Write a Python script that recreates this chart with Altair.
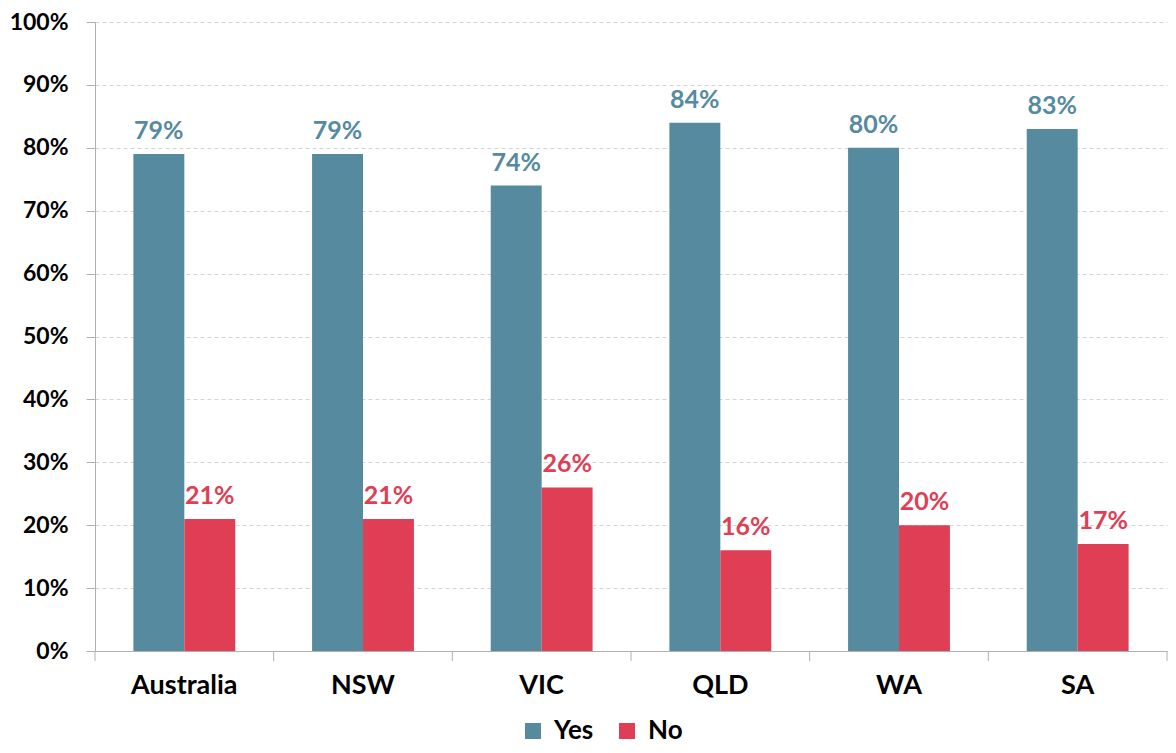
import altair as alt
import pandas as pd

regions = ["Australia", "NSW", "VIC", "QLD", "WA", "SA"]
yes_vals = [0.79, 0.79, 0.74, 0.84, 0.80, 0.83]
no_vals = [0.21, 0.21, 0.26, 0.16, 0.20, 0.17]
series = ["Yes", "No"]
colors = ["#568a9f", "#e03e54"]
y_ticks = [i / 10 for i in range(11)]

rows = []
for r, yv, nv in zip(regions, yes_vals, no_vals):
    rows.append({"region": r, "series": "Yes", "value": yv})
    rows.append({"region": r, "series": "No", "value": nv})
df = pd.DataFrame(rows)
cat_df = pd.DataFrame({"region": regions})
last_df = pd.DataFrame({"region": regions[-1:]})

W, H = 1072, 629
FONT = "Lato"
AXIS_GRAY = "#b0b0b0"

xscale = alt.Scale(domain=regions, paddingInner=0, paddingOuter=0)
x_enc = alt.X(
    "region:N", scale=xscale, sort=regions,
    axis=alt.Axis(title=None, ticks=False, labelFontSize=27, labelFont=FONT,
                  labelFontWeight="bold", labelColor="black", labelPadding=21,
                  domainColor=AXIS_GRAY, labelAngle=0),
)
xoff = alt.XOffset("series:N", sort=series,
                   scale=alt.Scale(domain=series, paddingInner=0, paddingOuter=0.754))
y_enc = alt.Y(
    "value:Q", scale=alt.Scale(domain=[0, 1]),
    axis=alt.Axis(title=None, values=y_ticks, format=".0%", labelFontSize=23,
                  labelFont=FONT, labelFontWeight="bold", labelColor="black",
                  labelPadding=18, tickSize=9, tickColor=AXIS_GRAY,
                  domainColor=AXIS_GRAY, grid=True, gridColor="#d4d4d4",
                  gridDash=[4, 3]),
)
cscale = alt.Scale(domain=series, range=colors)

bars = alt.Chart(df).mark_bar().encode(
    x=x_enc, xOffset=xoff, y=y_enc,
    color=alt.Color("series:N", scale=cscale, sort=series,
                    legend=alt.Legend(title=None, orient="none", legendX=425,
                                      legendY=696, direction="horizontal",
                                      symbolType="square", symbolSize=256,
                                      symbolStrokeWidth=0, labelFontSize=26,
                                      labelFont=FONT, labelFontWeight="bold",
                                      labelColor="black", columnPadding=20,
                                      labelOffset=8, padding=0)),
)

labels = alt.Chart(df).mark_text(baseline="alphabetic", dy=-15, fontSize=25,
                                 font=FONT, fontWeight="bold").encode(
    x=alt.X("region:N", sort=regions), xOffset=xoff, y="value:Q",
    text=alt.Text("value:Q", format=".0%"),
    color=alt.Color("series:N", scale=cscale, legend=None),
)

ticks_start = alt.Chart(cat_df).mark_rule(color=AXIS_GRAY).encode(
    x=alt.X("region:N", sort=regions, bandPosition=0),
    y=alt.value(H), y2=alt.value(H + 10),
)
ticks_end = alt.Chart(last_df).mark_rule(color=AXIS_GRAY).encode(
    x=alt.X("region:N", sort=regions, bandPosition=1),
    y=alt.value(H), y2=alt.value(H + 10),
)

chart = alt.layer(bars, labels, ticks_start, ticks_end).properties(
    width=W, height=H,
    autosize=alt.AutoSizeParams(type="none"),
    padding={"left": 87, "top": 14, "right": 1, "bottom": 94},
).configure_view(stroke=None)

chart.save("out.html", embed_options={"renderer": "svg", "actions": False})
